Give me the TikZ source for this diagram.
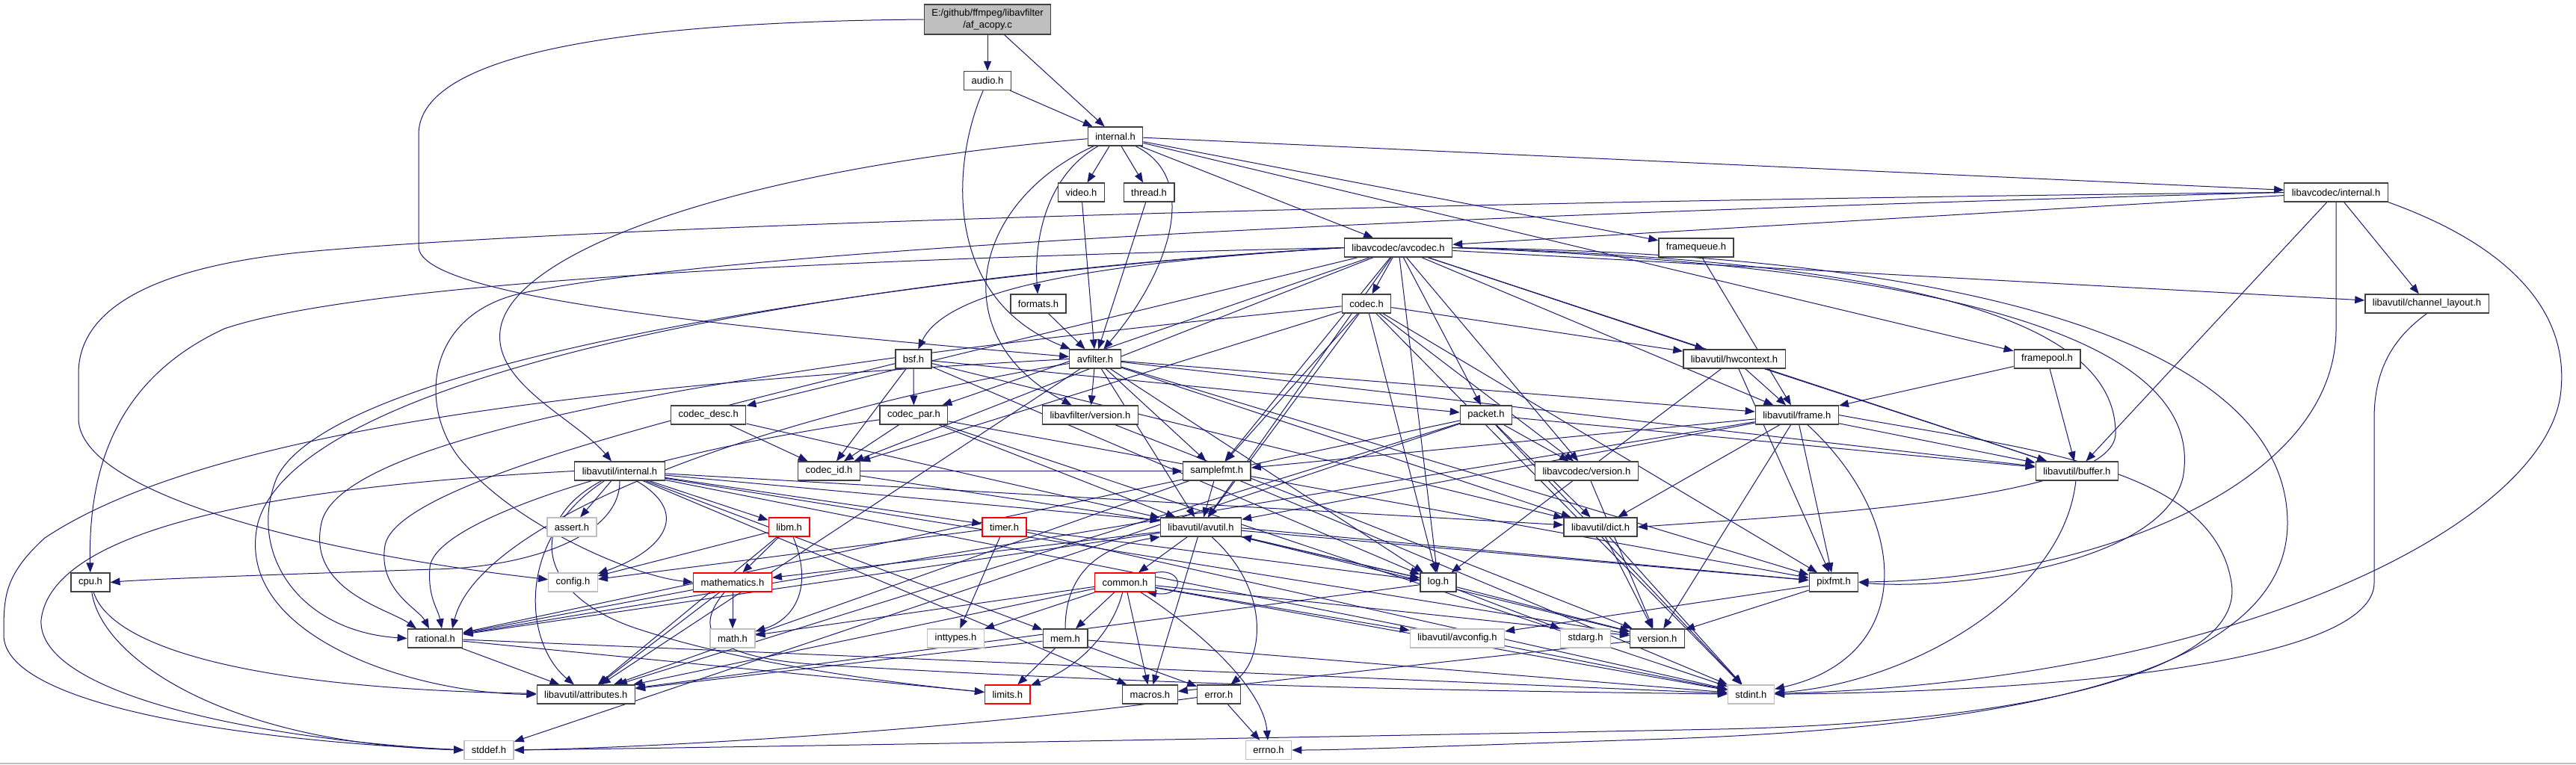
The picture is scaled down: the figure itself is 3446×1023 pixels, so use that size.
\documentclass[tikz,border=0pt]{standalone}
\usepackage{fontspec}
\setmainfont{Liberation Sans}
\usetikzlibrary{arrows.meta}
\definecolor{edgec}{HTML}{191970}
\definecolor{bord}{HTML}{404040}
\definecolor{extb}{HTML}{BFBFBF}
\definecolor{topf}{HTML}{BFBFBF}
\pgfdeclarelayer{bg}
\pgfsetlayers{bg,main}
\newcommand\nfont{\fontsize{6.5}{7.8}\selectfont}
\begin{document}
\begin{tikzpicture}[x=0.5pt,y=-0.5pt,
  nd/.style={draw=bord, fill=white, line width=0.65pt, inner xsep=5pt, inner ysep=0pt, minimum height=12.5pt, font=\nfont, text=black},
  ex/.style={nd, draw=extb},
  tr/.style={nd, draw=red},
  e/.style={draw=edgec, line width=0.5pt, -{Triangle[length=6.5pt,width=5pt]}}]
\useasboundingbox (0,0) rectangle (3446,1023);

\node[nd,fill=topf,align=center,minimum height=20pt] (top) at (1321,26) {E:/github/ffmpeg/libavfilter\\/af\_acopy.c};
\node[nd] (audio) at (1321,108) {audio.h};
\node[nd] (lfint) at (1492,182.5) {internal.h};
\node[nd] (video) at (1446.5,257.5) {video.h};
\node[nd] (thread) at (1537,257.5) {thread.h};
\node[nd] (lcint) at (3125,257.5) {libavcodec/internal.h};
\node[nd] (avcodec) at (1870.5,331.5) {libavcodec/avcodec.h};
\node[nd] (fqueue) at (2269,331.5) {framequeue.h};
\node[nd] (formats) at (1389,406.5) {formats.h};
\node[nd] (codec) at (1828,406.5) {codec.h};
\node[nd] (chlayout) at (3246.5,406.5) {libavutil/channel\_layout.h};
\node[nd] (bsf) at (1222,480.5) {bsf.h};
\node[nd] (avfilter) at (1465,480.5) {avfilter.h};
\node[nd] (hwctx) at (2320,480.5) {libavutil/hwcontext.h};
\node[nd] (fpool) at (2738.5,480.5) {framepool.h};
\node[nd] (cdesc) at (947.7,555.5) {codec\_desc.h};
\node[nd] (cpar) at (1222.4,555.5) {codec\_par.h};
\node[nd] (lfver) at (1458.4,555.5) {libavfilter/version.h};
\node[nd] (packet) at (1988,555.5) {packet.h};
\node[nd] (frame) at (2403.8,555.5) {libavutil/frame.h};
\node[nd] (luint) at (829,630.5) {libavutil/internal.h};
\node[nd] (cid) at (1109,630.5) {codec\_id.h};
\node[nd] (sfmt) at (1627.7,630.5) {samplefmt.h};
\node[nd] (lcver) at (2122.4,630.5) {libavcodec/version.h};
\node[nd] (buffer) at (2778.3,630.5) {libavutil/buffer.h};
\node[ex] (assert) at (765,705.5) {assert.h};
\node[tr] (libm) at (1055.6,705.5) {libm.h};
\node[tr] (timer) at (1343.5,705.5) {timer.h};
\node[nd] (avutil) at (1606.4,705.5) {libavutil/avutil.h};
\node[nd] (dict) at (2141,705.5) {libavutil/dict.h};
\node[nd] (cpu) at (121,779.5) {cpu.h};
\node[ex] (config) at (766.5,779.5) {config.h};
\node[tr] (mathem) at (980,779.5) {mathematics.h};
\node[tr] (common) at (1505,779.5) {common.h};
\node[nd] (log) at (1924,779.5) {log.h};
\node[nd] (pixfmt) at (2453,779.5) {pixfmt.h};
\node[nd] (rational) at (582,854.5) {rational.h};
\node[ex] (mathh) at (980,854.5) {math.h};
\node[ex] (inttypes) at (1278.5,854.5) {inttypes.h};
\node[nd] (mem) at (1425,854.5) {mem.h};
\node[ex] (avconfig) at (1949.4,854.5) {libavutil/avconfig.h};
\node[ex] (stdarg) at (2121,854.5) {stdarg.h};
\node[nd] (version) at (2217,854.5) {version.h};
\node[nd] (attrib) at (783.8,929.5) {libavutil/attributes.h};
\node[tr] (limits) at (1347.8,929.5) {limits.h};
\node[nd] (macros) at (1538.4,929.5) {macros.h};
\node[nd] (error) at (1630.5,929.5) {error.h};
\node[ex] (stdint) at (2342.4,929.5) {stdint.h};
\node[ex] (stddef) at (654,1004) {stddef.h};
\node[ex] (errno) at (1697,1004) {errno.h};

\begin{pgfonlayer}{bg}
\fill[white] (0,0) rectangle (3446,1023);
\draw[extb, line width=1pt] (0,1022) -- (3446,1022);
% af_acopy.c
\draw[e] (top) -- (audio);
\draw[e] (top) -- (lfint);
\draw[e] (top.west) .. controls (750,30) and (560,90) .. (560,180) -- (560,330) .. controls (560,400) and (1000,440) .. (avfilter);
% audio.h
\draw[e] (audio) -- (lfint);
\draw[e] (audio) .. controls (1272,220) and (1262,400) .. (avfilter);
% internal.h (libavfilter)
\draw[e] (lfint) -- (video);
\draw[e] (lfint) -- (thread);
\draw[e] (lfint) .. controls (1400,235) and (1383,320) .. (formats);
\draw[e] (lfint) .. controls (1610,240) and (1560,370) .. (avfilter);
\draw[e] (lfint) .. controls (1300,270) and (1260,450) .. (lfver);
\draw[e] (lfint) -- (avcodec);
\draw[e] (lfint) -- (fqueue);
\draw[e] (lfint) -- (fpool);
\draw[e] (lfint) -- (lcint);
\draw[e] (lfint) .. controls (1000,225) and (700,330) .. (671,433) .. controls (650,510) and (770,560) .. (luint);
% small ones
\draw[e] (video) -- (avfilter);
\draw[e] (thread) -- (avfilter);
\draw[e] (formats) -- (avfilter);
\draw[e] (fqueue) -- (frame);
\draw[e] (fpool) -- (buffer);
\draw[e] (fpool) -- (frame);
% libavcodec/internal.h
\draw[e] (lcint) -- (avcodec);
\draw[e] (lcint) -- (chlayout);
\draw[e] (lcint) -- (buffer);
\draw[e] (lcint.west) .. controls (2000,285) and (1000,330) .. (700,392) .. controls (560,422) and (560,560) .. (625,625) .. controls (690,700) and (840,770) .. (mathem.west);
\draw[e] (lcint.south) -- (3125,440) .. controls (3125,650) and (2800,775) .. (pixfmt);
\draw[e] (lcint.south east) .. controls (3360,330) and (3440,420) .. (3425,530) .. controls (3400,700) and (3000,910) .. (stdint);
\draw[e] (lcint.west) .. controls (2000,268) and (800,300) .. (400,338) .. controls (170,362) and (105,430) .. (105,500) -- (105,560) .. controls (105,660) and (420,740) .. (config);
% channel_layout
\draw[e] (chlayout.south) .. controls (3205,450) and (3176,490) .. (3176,560) -- (3176,780) .. controls (3176,880) and (2800,925) .. (stdint);
% libavcodec/avcodec.h
\draw[e] (avcodec) -- (codec);
\draw[e] (avcodec.west) .. controls (1500,350) and (1270,380) .. (bsf);
\draw[e] (avcodec) -- (cdesc);
\draw[e] (avcodec) -- (cpar);
\draw[e] (avcodec) -- (cid);
\draw[e] (avcodec) -- (packet);
\draw[e] (avcodec) -- (lcver);
\draw[e] (avcodec) -- (hwctx);
\draw[e] (avcodec) -- (frame);
\draw[e] (avcodec) -- (buffer);
\draw[e] (avcodec) -- (chlayout);
\draw[e] (avcodec) -- (sfmt);
\draw[e] (avcodec) -- (avutil);
\draw[e] (avcodec) -- (log);
\draw[e] (avcodec.west) .. controls (1300,360) and (450,470) .. (370,640) .. controls (330,740) and (400,845) .. (rational.west);
\draw[e] (avcodec.west) .. controls (1100,372) and (400,500) .. (345,700) .. controls (310,850) and (550,928) .. (attrib.west);
\draw[e] (avcodec.east) .. controls (2600,350) and (2830,440) .. (2830,580) .. controls (2830,670) and (2400,690) .. (dict.east);
\draw[e] (avcodec.east) .. controls (2700,360) and (2950,480) .. (2920,640) .. controls (2890,760) and (2600,790) .. (pixfmt.east);
\draw[e] (avcodec.east) .. controls (2700,340) and (3060,480) .. (3060,700) .. controls (3060,900) and (2700,975) .. (2200,990) .. controls (1950,998) and (1800,1004) .. (errno.east);
\draw[e] (avcodec.west) .. controls (1200,345) and (500,372) .. (300,440) .. controls (160,505) and (118,620) .. (cpu);
% codec.h
\draw[e] (codec) -- (cid);
\draw[e] (codec) -- (sfmt);
\draw[e] (codec) -- (log);
\draw[e] (codec) -- (avutil);
\draw[e] (codec) -- (hwctx);
\draw[e] (codec) -- (lcver);
\draw[e] (codec) -- (pixfmt);
\draw[e] (codec) .. controls (1200,470) and (460,560) .. (430,700) .. controls (410,790) and (520,815) .. ([xshift=-12.5pt]rational.north);
\draw[e] (codec) -- (stdint);
% hwcontext
\draw[e] (hwctx) -- (buffer);
\draw[e] (hwctx) -- (frame);
\draw[e] (hwctx) -- (log);
\draw[e] (hwctx) -- (pixfmt);
% avfilter.h
\draw[e] (avfilter) -- (attrib);
\draw[e] (avfilter) -- (avutil);
\draw[e] (avfilter) -- (buffer);
\draw[e] (avfilter) -- (dict);
\draw[e] (avfilter) -- (frame);
\draw[e] (avfilter) -- (log);
\draw[e] (avfilter) -- (sfmt);
\draw[e] (avfilter) -- (pixfmt);
\draw[e] (avfilter) .. controls (1000,560) and (640,700) .. ([xshift=11.5pt]rational.north);
\draw[e] (avfilter) -- (lfver);
\draw[e] (avfilter.west) .. controls (900,510) and (300,560) .. (60,720) .. controls (5,770) and (5,800) .. (5,850) .. controls (5,940) and (300,990) .. (stddef.west);
% bsf.h
\draw[e] (bsf) -- (dict);
\draw[e] (bsf) -- (log);
\draw[e] (bsf) .. controls (900,560) and (530,650) .. (515,730) .. controls (505,790) and (560,815) .. ([xshift=-4pt]rational.north);
\draw[e] (bsf) -- (cid);
\draw[e] (bsf) -- (cpar);
\draw[e] (bsf) -- (packet);
% codec_desc.h
\draw[e] (cdesc) -- (avutil);
\draw[e] (cdesc) -- (cid);
% codec_par.h
\draw[e] (cpar) -- (stdint);
\draw[e] (cpar) -- (avutil);
\draw[e] (cpar) .. controls (900,600) and (580,690) .. (575,760) .. controls (572,800) and (586,815) .. ([xshift=4.5pt]rational.north);
\draw[e] (cpar) -- (pixfmt);
\draw[e] (cpar) -- (cid);
% packet.h
\draw[e] (packet) -- (stddef);
\draw[e] (packet) -- (stdint);
\draw[e] (packet) -- (attrib);
\draw[e] (packet) -- (buffer);
\draw[e] (packet) -- (dict);
\draw[e] (packet) -- (rational);
\draw[e] (packet) -- (lcver);
% frame.h
\draw[e] (frame.east) .. controls (2700,600) and (2960,620) .. (2985,780) .. controls (3005,900) and (2700,968) .. (2300,976) .. controls (1700,988) and (1000,1000) .. (stddef.east);
\draw[e] (frame) .. controls (2560,700) and (2560,880) .. (stdint);
\draw[e] (frame) -- (avutil);
\draw[e] (frame) -- (buffer);
\draw[e] (frame) -- (dict);
\draw[e] (frame) -- (rational);
\draw[e] (frame) -- (sfmt);
\draw[e] (frame) -- (pixfmt);
\draw[e] (frame) -- (version);
% libavutil/internal.h
\draw[e] (luint.west) .. controls (400,650) and (70,700) .. (55,830) .. controls (50,930) and (350,990) .. (stddef.west);
\draw[e] (luint.south) .. controls (830,720) and (700,760) .. (580,762) .. controls (400,768) and (200,775) .. (cpu.east);
\draw[e] (luint) .. controls (930,690) and (880,740) .. (config);
\draw[e] (luint) .. controls (690,720) and (700,860) .. (attrib);
\draw[e] (luint) .. controls (700,700) and (720,800) .. (857,843) .. controls (1000,890) and (1200,915) .. (limits);
\draw[e] (luint) -- (assert);
\draw[e] (luint) -- (libm);
\draw[e] (luint) -- (timer);
\draw[e] (luint) -- (dict);
\draw[e] (luint) -- (macros);
\draw[e] (luint) -- (mem);
\draw[e] (luint) -- (pixfmt);
\draw[e] (luint) -- (version);
\draw[e] (luint) -- (stdint);
% codec_id.h
\draw[e] (cid) -- (avutil);
\draw[e] (cid) -- (sfmt);
% samplefmt.h
\draw[e] (sfmt) -- (stdint);
\draw[e] (sfmt) -- (avutil);
\draw[e] (sfmt) -- (attrib);
% versions, buffer, dict
\draw[e] (lcver) -- (version);
\draw[e] (lfver) -- (version);
\draw[e] (buffer) .. controls (2760,800) and (2550,915) .. (stdint);
\draw[e] (dict) -- (stdint);
\draw[e] (dict) -- (version);
% libm.h
\draw[e] (libm) -- (mathem);
\draw[e] (libm) .. controls (1090,790) and (1060,830) .. (mathh);
\draw[e] (libm) -- (config);
\draw[e] (libm) -- (attrib);
% timer.h
\draw[e] (timer) -- (config);
\draw[e] (timer) -- (inttypes);
\draw[e] (timer) -- (log);
\draw[e] (timer) -- (stdint);
% avutil.h
\draw[e] (avutil) -- (common);
\draw[e] (avutil) .. controls (1700,790) and (1690,880) .. (error);
\draw[e] (avutil) -- (rational);
\draw[e] (avutil) -- (version);
\draw[e] (avutil) -- (macros);
\draw[e] (avutil) -- (mathem);
\draw[e] (avutil) -- (log);
\draw[e] (avutil) -- (pixfmt);
% cpu.h
\draw[e] (cpu) .. controls (150,870) and (350,922) .. (attrib);
\draw[e] (cpu) .. controls (135,880) and (300,995) .. (stddef.west);
% mathematics.h
\draw[e] (mathem) -- (mathh);
\draw[e] (mathem) -- (rational);
\draw[e] (mathem) -- (attrib);
\draw[e] (mathem) .. controls (930,840) and (940,880) .. (1100,890) .. controls (1600,920) and (2000,925) .. (stdint);
% common.h
\draw[e] (common.north east) .. controls (1585,760) and (1585,800) .. ([xshift=-6pt]common.south east);
\draw[e] (common) -- (inttypes);
\draw[e] (common) -- (mem);
\draw[e] (common) .. controls (1490,840) and (1450,890) .. (limits);
\draw[e] (common) -- (macros);
\draw[e] (common) .. controls (1600,840) and (1690,920) .. (errno);
\draw[e] (common) -- (mathh);
\draw[e] (common) -- (attrib);
\draw[e] (common) -- (stdint);
\draw[e] (common) -- (version);
\draw[e] (common) -- (avconfig);
% log.h
\draw[e] (log) -- (stdarg);
\draw[e] (log) -- (avutil);
\draw[e] (log) -- (attrib);
\draw[e] (log) -- (version);
% pixfmt.h
\draw[e] (pixfmt) -- (avconfig);
\draw[e] (pixfmt) -- (version);
% rational.h
\draw[e] (rational) -- (stdint);
\draw[e] (rational) -- (limits);
\draw[e] (rational) -- (attrib);
% mem.h
\draw[e] (mem) -- (limits);
\draw[e] (mem) -- (stdint);
\draw[e] (mem) -- (attrib);
\draw[e] (mem) -- (error);
\draw[e] (mem.north) .. controls (1425,760) and (1480,730) .. (avutil.south west);
% version.h
\draw[e] (version) -- (macros);
% error.h
\draw[e] (error) -- (errno);
\draw[e] (error) .. controls (1300,975) and (900,1000) .. (stddef.east);
\end{pgfonlayer}
\end{tikzpicture}
\end{document}
